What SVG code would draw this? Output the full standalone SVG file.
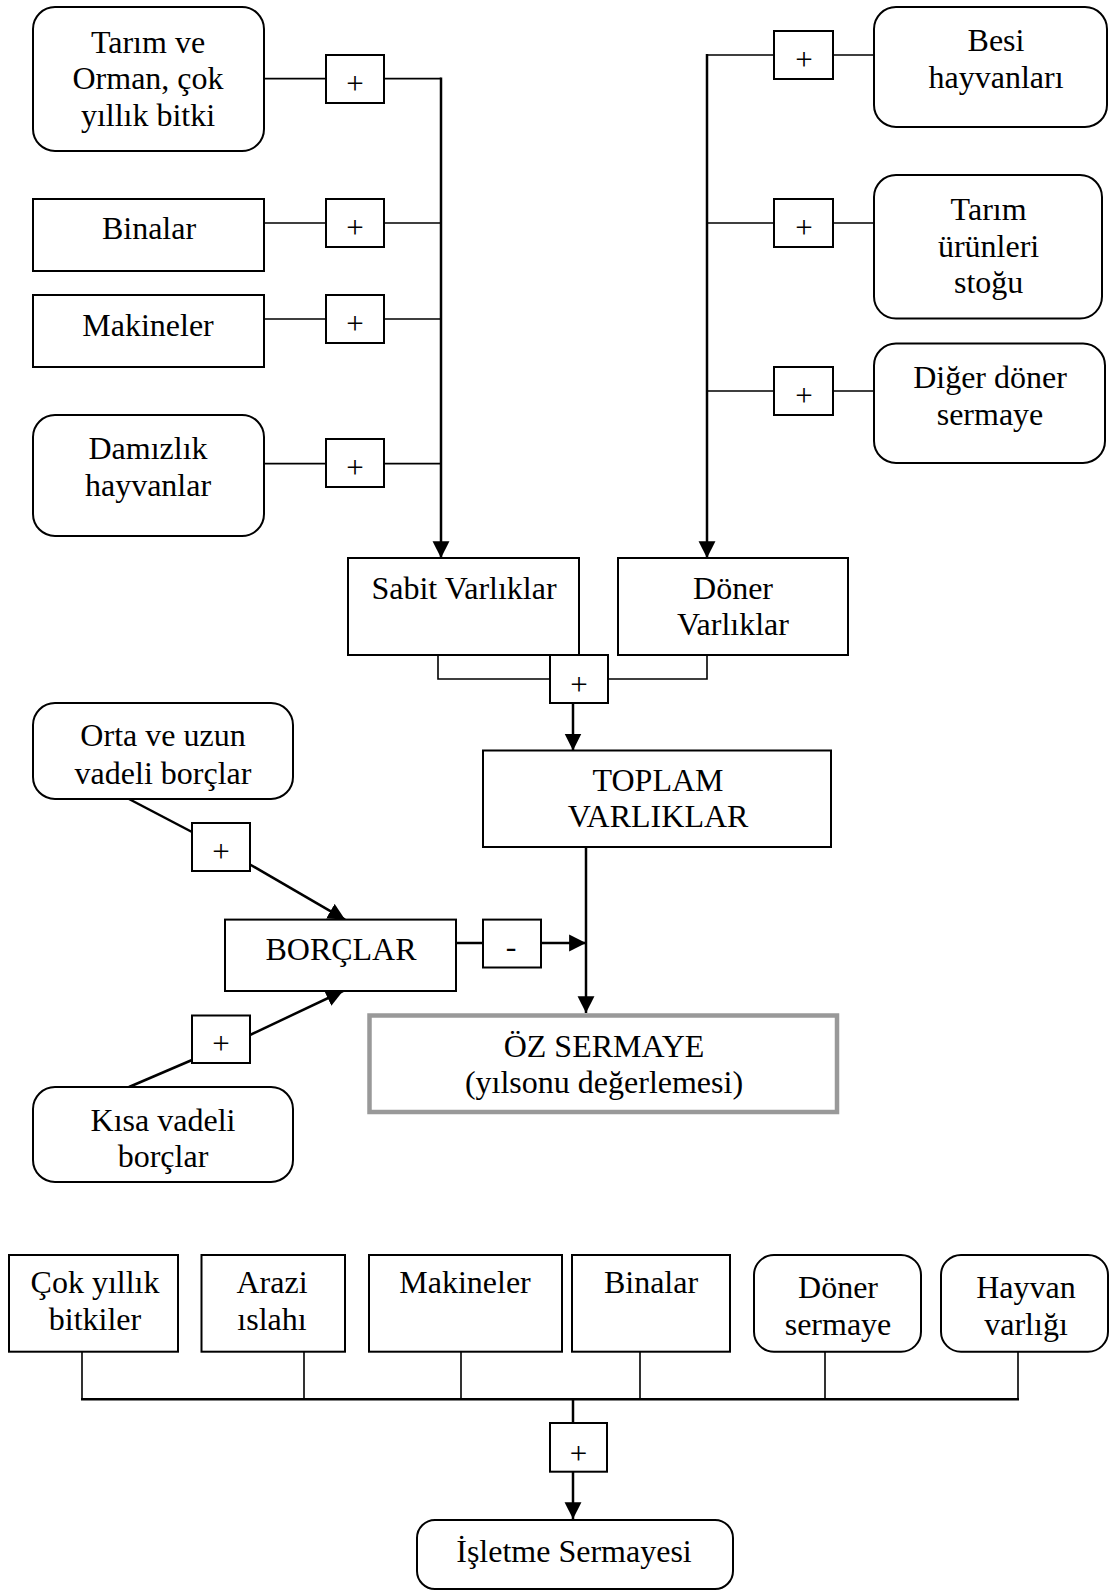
<svg xmlns="http://www.w3.org/2000/svg" width="1109" height="1591" viewBox="0 0 1109 1591">
<style>
  .box { fill: #fff; stroke: #000; stroke-width: 2; }
  .gbox { fill: #fff; stroke: #999; stroke-width: 4.5; }
  .t { font-family: "Liberation Serif", "Times New Roman", serif; font-size: 32px; fill: #000; text-anchor: middle; }
  .p { font-family: "Liberation Serif", "Times New Roman", serif; font-size: 31px; fill: #000; text-anchor: middle; }
  .thin { fill: none; stroke: #000; stroke-width: 1.6; }
  .thick { fill: none; stroke: #000; stroke-width: 2.5; }
</style>
<defs>
  <marker id="arr" markerUnits="userSpaceOnUse" markerWidth="18" markerHeight="18" refX="15" refY="7.5" orient="auto" viewBox="0 0 16 15">
    <path d="M0,0 L15,7.5 L0,15 z" fill="#000"/>
  </marker>
  <clipPath id="clipD"><rect x="754" y="1255" width="167" height="96"/></clipPath>
  <clipPath id="clipH"><rect x="941" y="1255" width="168" height="96"/></clipPath>
</defs>
<rect width="1109" height="1591" fill="#fff"/>

<!-- connectors -->
<g id="connectors">
  <!-- left inputs -->
  <path class="thin" d="M264,78.6 H326 M384,78.6 H441"/>
  <path class="thin" d="M264,223 H326 M384,223 H441"/>
  <path class="thin" d="M264,319 H326 M384,319 H441"/>
  <path class="thin" d="M264,463.6 H326 M384,463.6 H441"/>
  <path class="thick" d="M441,77.5 V558" marker-end="url(#arr)"/>
  <!-- right inputs -->
  <path class="thin" d="M707,55 H774 M833,55 H874"/>
  <path class="thin" d="M707,223 H774 M833,223 H874"/>
  <path class="thin" d="M707,391 H774 M833,391 H874"/>
  <path class="thick" d="M707,54 V558" marker-end="url(#arr)"/>
  <!-- sum of sabit + doner -->
  <path class="thin" d="M438,655 V679 H550 M608,679 H707 V655"/>
  <path class="thick" d="M573,703 V750.5" marker-end="url(#arr)"/>
  <!-- toplam to oz -->
  <path class="thick" d="M586,847 V1013" marker-end="url(#arr)"/>
  <!-- borclar minus -->
  <path class="thick" d="M456,943 H483"/>
  <path class="thick" d="M541,943 H586" marker-end="url(#arr)"/>
  <!-- debts -->
  <path class="thick" d="M129,799 L192,832"/>
  <path class="thick" d="M250,864.5 L345,919.6" marker-end="url(#arr)"/>
  <path class="thick" d="M129,1087 L192,1060"/>
  <path class="thick" d="M250,1035 L343,991" marker-end="url(#arr)"/>
  <!-- bottom -->
  <path class="thin" d="M82,1352 V1399.3 M304,1352 V1399.3 M461,1352 V1399.3 M640,1352 V1399.3 M825,1352 V1399.3 M1018,1352 V1399.3"/>
  <path class="thick" d="M81,1399.3 H1019"/>
  <path class="thick" d="M573,1399.3 V1423"/>
  <path class="thick" d="M573,1472 V1519" marker-end="url(#arr)"/>
</g>

<!-- plus / minus operators -->
<g id="op-l1"><rect class="box" x="326" y="55" width="58" height="48"/><text class="p" x="355" y="94">+</text></g>
<g id="op-l2"><rect class="box" x="326" y="199" width="58" height="48"/><text class="p" x="355" y="238">+</text></g>
<g id="op-l3"><rect class="box" x="326" y="295" width="58" height="48"/><text class="p" x="355" y="334">+</text></g>
<g id="op-l4"><rect class="box" x="326" y="439" width="58" height="48"/><text class="p" x="355" y="478">+</text></g>
<g id="op-r1"><rect class="box" x="774" y="31" width="59" height="48"/><text class="p" x="804" y="70">+</text></g>
<g id="op-r2"><rect class="box" x="774" y="199" width="59" height="48"/><text class="p" x="804" y="238">+</text></g>
<g id="op-r3"><rect class="box" x="774" y="367" width="59" height="48"/><text class="p" x="804" y="406">+</text></g>

<!-- left nodes -->
<g id="tarim-orman"><rect class="box" x="33" y="7" width="231" height="144" rx="22"/>
  <text class="t" x="148" y="53">Tarım ve</text><text class="t" x="148" y="89.3">Orman, çok</text><text class="t" x="148" y="125.7">yıllık bitki</text></g>
<g id="binalar"><rect class="box" x="33" y="199" width="231" height="72"/><text class="t" x="149" y="238.6">Binalar</text></g>
<g id="makineler"><rect class="box" x="33" y="295" width="231" height="72"/><text class="t" x="148" y="335.7">Makineler</text></g>
<g id="damizlik"><rect class="box" x="33" y="415" width="231" height="121" rx="22"/>
  <text class="t" x="148" y="459">Damızlık</text><text class="t" x="148" y="496">hayvanlar</text></g>

<!-- right nodes -->
<g id="besi"><rect class="box" x="874" y="7" width="233" height="120" rx="22"/>
  <text class="t" x="996" y="50.7">Besi</text><text class="t" x="996" y="87.5">hayvanları</text></g>
<g id="tarim-urunleri"><rect class="box" x="874" y="175" width="228" height="143.6" rx="22"/>
  <text class="t" x="988.6" y="220">Tarım</text><text class="t" x="988.6" y="257">ürünleri</text><text class="t" x="988.6" y="293">stoğu</text></g>
<g id="diger"><rect class="box" x="874" y="343.6" width="231" height="119.4" rx="22"/>
  <text class="t" x="990" y="387.5">Diğer döner</text><text class="t" x="990" y="425">sermaye</text></g>

<!-- middle -->
<g id="sabit"><rect class="box" x="348" y="558" width="231" height="97"/><text class="t" x="464" y="599">Sabit Varlıklar</text></g>
<g id="doner"><rect class="box" x="618" y="558" width="230" height="97"/>
  <text class="t" x="733" y="599">Döner</text><text class="t" x="733" y="635">Varlıklar</text></g>
<g id="op-sum"><rect class="box" x="550" y="655" width="58" height="48"/><text class="p" x="579" y="695">+</text></g>
<g id="toplam"><rect class="box" x="483" y="750.5" width="348" height="96.5"/>
  <text class="t" x="658" y="791">TOPLAM</text><text class="t" x="658" y="827">VARLIKLAR</text></g>
<g id="orta-uzun"><rect class="box" x="33" y="703" width="260" height="96" rx="22"/>
  <text class="t" x="163" y="746">Orta ve uzun</text><text class="t" x="163" y="783.7">vadeli borçlar</text></g>
<g id="op-orta"><rect class="box" x="192" y="823" width="58" height="48"/><text class="p" x="221" y="862">+</text></g>
<g id="borclar"><rect class="box" x="225" y="919.6" width="231" height="71.4"/><text class="t" x="341" y="959.6">BORÇLAR</text></g>
<g id="op-minus"><rect class="box" x="483" y="919.6" width="58" height="47.9"/><text class="t" x="511" y="957">-</text></g>
<g id="op-kisa"><rect class="box" x="192" y="1015.5" width="58" height="47.5"/><text class="p" x="221" y="1054">+</text></g>
<g id="kisa"><rect class="box" x="33" y="1087" width="260" height="95" rx="22"/>
  <text class="t" x="163" y="1131">Kısa vadeli</text><text class="t" x="163" y="1167">borçlar</text></g>
<g id="oz-sermaye"><rect class="gbox" x="369.5" y="1015.5" width="467.5" height="96.5"/>
  <text class="t" x="604" y="1056.6">ÖZ SERMAYE</text><text class="t" x="604" y="1093">(yılsonu değerlemesi)</text></g>

<!-- bottom -->
<g id="cok-yillik"><rect class="box" x="9" y="1255" width="169" height="96.7"/>
  <text class="t" x="95" y="1293">Çok yıllık</text><text class="t" x="95" y="1330">bitkiler</text></g>
<g id="arazi"><rect class="box" x="201.5" y="1255" width="143.5" height="96.7"/>
  <text class="t" x="272" y="1293">Arazi</text><text class="t" x="272" y="1330">ıslahı</text></g>
<g id="makineler2"><rect class="box" x="369" y="1255" width="193" height="96.7"/><text class="t" x="465" y="1293">Makineler</text></g>
<g id="binalar2"><rect class="box" x="572" y="1255" width="158" height="96.7"/><text class="t" x="651" y="1293">Binalar</text></g>
<g id="doner-sermaye"><rect class="box" x="754" y="1255" width="167" height="96.7" rx="20"/>
  <g clip-path="url(#clipD)"><text class="t" x="838" y="1298">Döner</text><text class="t" x="838" y="1335">sermaye</text></g></g>
<g id="hayvan-varligi"><rect class="box" x="941" y="1255" width="167" height="96.7" rx="20"/>
  <g clip-path="url(#clipH)"><text class="t" x="1026" y="1298">Hayvan</text><text class="t" x="1026" y="1335">varlığı</text></g></g>
<g id="op-bottom"><rect class="box" x="550" y="1423" width="57" height="48.7"/><text class="p" x="578.5" y="1463.5">+</text></g>
<g id="isletme"><rect class="box" x="417" y="1520" width="316" height="69" rx="18"/>
  <text class="t" x="574" y="1561.7">İşletme Sermayesi</text></g>
</svg>
